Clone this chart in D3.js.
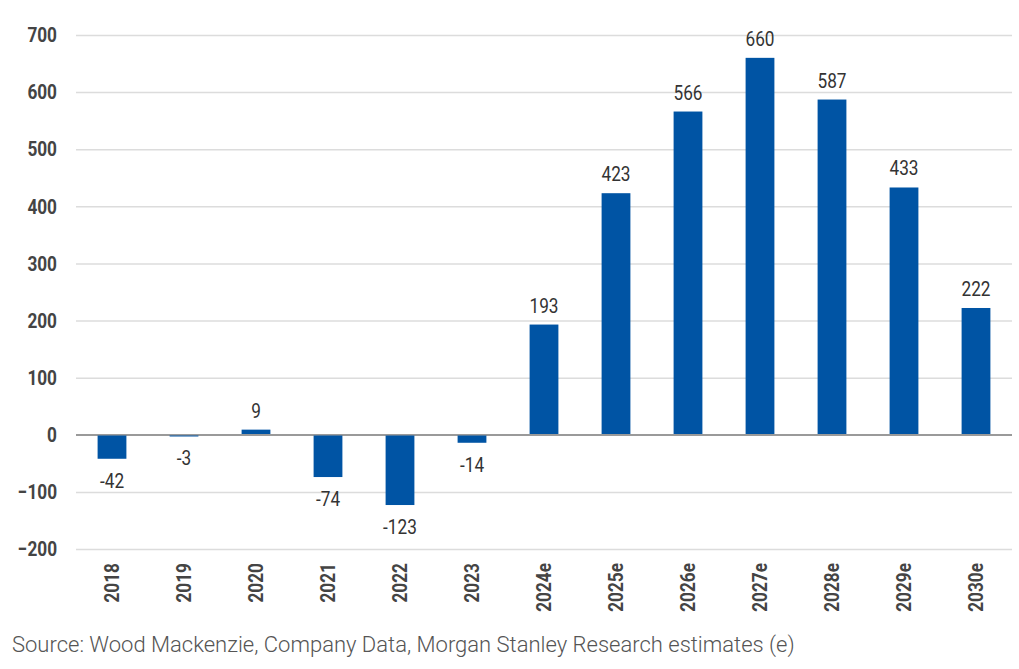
<!DOCTYPE html>
<html>
<head>
<meta charset="utf-8">
<script src="https://cdn.jsdelivr.net/npm/d3@7"></script>
<style>
  body { margin: 0; background: #fff; }
</style>
</head>
<body>
<div id="chart"></div>
<script>
// data
const years = ["2018", "2019", "2020", "2021", "2022", "2023", "2024e", "2025e", "2026e", "2027e", "2028e", "2029e", "2030e"];
const values = [-42, -3, 9, -74, -123, -14, 193, 423, 566, 660, 587, 433, 222];
const yTicks = [-200, -100, 0, 100, 200, 300, 400, 500, 600, 700];
const source = "Source: Wood Mackenzie, Company Data, Morgan Stanley Research estimates (e)";

const W = 1019, H = 669;
const margin = {top: 35, right: 7, bottom: 120, left: 76};
const width = W - margin.left - margin.right,
      height = H - margin.top - margin.bottom;

const svg = d3.select("#chart").append("svg")
    .attr("width", W)
    .attr("height", H);

const g = svg.append("g")
    .attr("transform", `translate(${margin.left},${margin.top})`);

const x = d3.scaleBand()
    .domain(years)
    .range([0, width])
    .paddingInner(0.6)
    .paddingOuter(0.3);

const y = d3.scaleLinear()
    .domain([-200, 700])
    .range([height, 0]);

// no condensed font installed, so squeeze Roboto horizontally
const squeeze = 0.82;

// gridlines + y labels
const yAxis = g.append("g")
    .call(d3.axisLeft(y).tickValues(yTicks).tickSize(-width));
yAxis.select(".domain").remove();
yAxis.selectAll(".tick line")
    .attr("stroke", d => d === 0 ? "#9a9a9a" : "#dcdcdc")
    .attr("stroke-width", 1.5);
yAxis.selectAll(".tick text")
    .attr("x", 0)
    .attr("transform", `translate(-19,0) scale(${squeeze},1)`)
    .attr("fill", "#444")
    .style("font-family", "Roboto, sans-serif")
    .style("font-weight", "bold")
    .style("font-size", "21px");

const rows = years.map((c, i) => ({c, v: values[i]}));

// bars
g.selectAll("rect.bar")
  .data(rows)
  .join("rect")
    .attr("class", "bar")
    .attr("x", d => x(d.c))
    .attr("y", d => y(Math.max(0, d.v)))
    .attr("width", x.bandwidth())
    .attr("height", d => Math.max(1.5, Math.abs(y(d.v) - y(0))))
    .attr("fill", "#0054a4");

// zero line on top
g.append("line")
    .attr("x1", 0).attr("x2", width)
    .attr("y1", y(0)).attr("y2", y(0))
    .attr("stroke", "#9a9a9a")
    .attr("stroke-width", 1.5);

// value labels
g.selectAll("text.val")
  .data(rows)
  .join("text")
    .attr("class", "val")
    .attr("transform", d => {
      const cx = x(d.c) + x.bandwidth() / 2;
      const cy = d.v >= 0 ? y(d.v) - 12 : y(Math.min(d.v, -3)) + 29;
      return `translate(${cx},${cy}) scale(${squeeze},1)`;
    })
    .attr("text-anchor", "middle")
    .attr("fill", "#333")
    .style("font-family", "Roboto, sans-serif")
    .style("font-weight", "400")
    .style("font-size", "21px")
    .text(d => d.v);

// x labels, rotated
const xAxis = g.append("g")
    .attr("transform", `translate(0,${height})`)
    .call(d3.axisBottom(x).tickSize(0).tickPadding(0));
xAxis.select(".domain").remove();
xAxis.selectAll(".tick text")
    .attr("transform", `translate(0,14) rotate(-90) scale(${squeeze},1)`)
    .attr("text-anchor", "end")
    .attr("dy", "0.35em")
    .attr("x", 0).attr("y", 0)
    .attr("fill", "#444")
    .style("font-family", "Roboto, sans-serif")
    .style("font-weight", "bold")
    .style("font-size", "21px");

// source
svg.append("text")
    .attr("x", 12)
    .attr("y", 652)
    .attr("fill", "#555")
    .style("font-family", "Roboto, sans-serif")
    .style("font-weight", "300")
    .style("font-size", "22px")
    .text(source);
</script>
</body>
</html>
